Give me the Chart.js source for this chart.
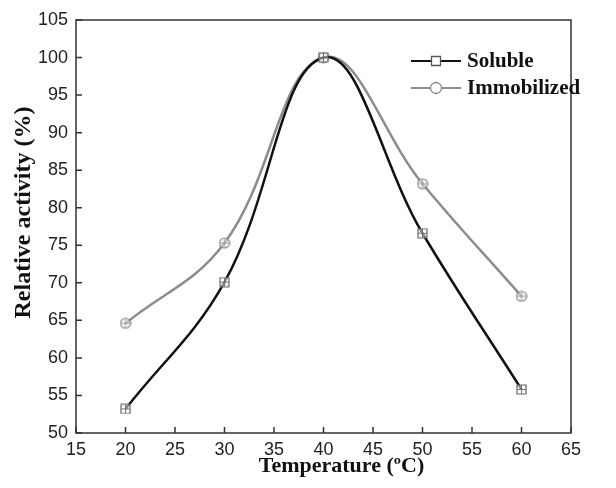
<!DOCTYPE html>
<html lang="en">
<head>
    <meta charset="UTF-8">
    <title>Relative activity vs temperature</title>
    <script src="https://cdn.jsdelivr.net/npm/chart.js"></script>
    <style>
        html, body { margin: 0; padding: 0; background: #fff; }
        #wrap { width: 616px; height: 488px; }
    </style>
</head>
<body>
    <div id="wrap"><canvas id="activityChart" width="616" height="488"></canvas></div>
    <script>
        // values
        const temperatures = [20, 30, 40, 50, 60];
        const soluble = [53.2, 70.1, 100.0, 76.6, 55.8];
        const immobilized = [64.6, 75.3, 100.0, 83.2, 68.2];

        const xTicks = { min: 15, max: 65, step: 5 };
        const yTicks = { min: 50, max: 105, step: 5 };

        const xTitle = 'Temperature (ºC)';
        const yTitle = 'Relative activity (%)';

        function toPoints(values) {
            return temperatures.map((t, i) => ({ x: t, y: values[i] }));
        }

        // marker with a small cross inside, like the original symbols
        function makeMarker(shape, size, color) {
            const c = document.createElement('canvas');
            c.width = size;
            c.height = size;
            const g = c.getContext('2d');
            const m = size / 2;
            g.strokeStyle = color;
            g.fillStyle = 'rgba(255,255,255,0.5)';
            g.lineWidth = 1.2;
            g.beginPath();
            if (shape === 'rect') {
                g.rect(1, 1, size - 2, size - 2);
            } else {
                g.arc(m, m, m - 1, 0, Math.PI * 2);
            }
            g.fill();
            g.stroke();
            g.beginPath();
            g.moveTo(m, 1);
            g.lineTo(m, size - 1);
            g.moveTo(1, m);
            g.lineTo(size - 1, m);
            g.lineWidth = 0.9;
            g.stroke();
            return c;
        }

        // box around the plot + inward tick marks + axis titles
        const framePlugin = {
            id: 'frame',
            afterDatasetsDraw(chart) {
                const ctx = chart.ctx;
                const area = chart.chartArea;
                const xs = chart.scales.x;
                const ys = chart.scales.y;
                ctx.save();
                ctx.strokeStyle = '#333';
                ctx.lineWidth = 1.5;
                ctx.strokeRect(area.left, area.top, area.right - area.left, area.bottom - area.top);
                ctx.beginPath();
                xs.ticks.forEach((t, i) => {
                    const px = xs.getPixelForTick(i);
                    ctx.moveTo(px, area.bottom);
                    ctx.lineTo(px, area.bottom - 6);
                });
                ys.ticks.forEach((t, i) => {
                    const py = ys.getPixelForTick(i);
                    ctx.moveTo(area.left, py);
                    ctx.lineTo(area.left + 6, py);
                });
                ctx.stroke();

                ctx.fillStyle = '#111';
                ctx.textAlign = 'center';
                ctx.textBaseline = 'alphabetic';
                ctx.font = 'bold 22px "Liberation Serif", "Times New Roman", serif';
                ctx.fillText(xTitle, (area.left + area.right) / 2 + 18, 472);
                ctx.translate(30, (area.top + area.bottom) / 2 - 14);
                ctx.rotate(-Math.PI / 2);
                ctx.font = 'bold 24px "Liberation Serif", "Times New Roman", serif';
                ctx.fillText(yTitle, 0, 0);
                ctx.restore();
            }
        };

        // legend inside the plot, line-marker-line style
        const insideLegend = {
            id: 'insideLegend',
            afterDraw(chart) {
                const ctx = chart.ctx;
                const area = chart.chartArea;
                const x0 = area.right - 160;
                const x1 = area.right - 110;
                ctx.save();
                ctx.font = 'bold 21px "Liberation Serif", "Times New Roman", serif';
                ctx.textBaseline = 'middle';
                chart.data.datasets.forEach((ds, i) => {
                    const y = area.top + 41 + i * 27;
                    ctx.strokeStyle = ds.borderColor;
                    ctx.lineWidth = 2.2;
                    ctx.beginPath();
                    ctx.moveTo(x0, y);
                    ctx.lineTo(x1, y);
                    ctx.stroke();
                    const mx = (x0 + x1) / 2;
                    ctx.fillStyle = '#fff';
                    ctx.strokeStyle = ds.legendMarkerColor;
                    ctx.lineWidth = 1.3;
                    ctx.beginPath();
                    if (ds.legendShape === 'rect') {
                        ctx.rect(mx - 4.5, y - 4.5, 9, 9);
                    } else {
                        ctx.arc(mx, y, 5.5, 0, Math.PI * 2);
                    }
                    ctx.fill();
                    ctx.stroke();
                    ctx.fillStyle = '#111';
                    ctx.fillText(ds.label, x1 + 6, y + 1);
                });
                ctx.restore();
            }
        };

        const tickFont = { family: '"Liberation Sans", Arial, sans-serif', size: 18 };

        new Chart(document.getElementById('activityChart').getContext('2d'), {
            type: 'line',
            data: {
                datasets: [{
                    label: 'Soluble',
                    data: toPoints(soluble),
                    borderColor: '#111',
                    borderWidth: 2.5,
                    tension: 0.4,
                    pointStyle: makeMarker('rect', 11, '#666'),
                    legendShape: 'rect',
                    legendMarkerColor: '#555'
                }, {
                    label: 'Immobilized',
                    data: toPoints(immobilized),
                    borderColor: '#8c8c8c',
                    borderWidth: 2.5,
                    tension: 0.4,
                    pointStyle: makeMarker('circle', 12, '#888'),
                    legendShape: 'circle',
                    legendMarkerColor: '#888'
                }]
            },
            options: {
                responsive: false,
                animation: false,
                layout: { padding: { left: 10, top: 20, right: 45, bottom: 10 } },
                plugins: {
                    legend: { display: false },
                    tooltip: { enabled: false }
                },
                scales: {
                    x: {
                        type: 'linear',
                        min: xTicks.min,
                        max: xTicks.max,
                        afterFit(scale) { scale.height = 45; },
                        ticks: { stepSize: xTicks.step, padding: 6, color: '#222', font: tickFont },
                        grid: { display: false, drawTicks: false, tickLength: 0 },
                        border: { display: false }
                    },
                    y: {
                        min: yTicks.min,
                        max: yTicks.max,
                        afterFit(scale) { scale.width = 66; },
                        ticks: { stepSize: yTicks.step, padding: 8, color: '#222', font: tickFont },
                        grid: { display: false, drawTicks: false, tickLength: 0 },
                        border: { display: false }
                    }
                }
            },
            plugins: [framePlugin, insideLegend]
        });
    </script>
</body>
</html>
